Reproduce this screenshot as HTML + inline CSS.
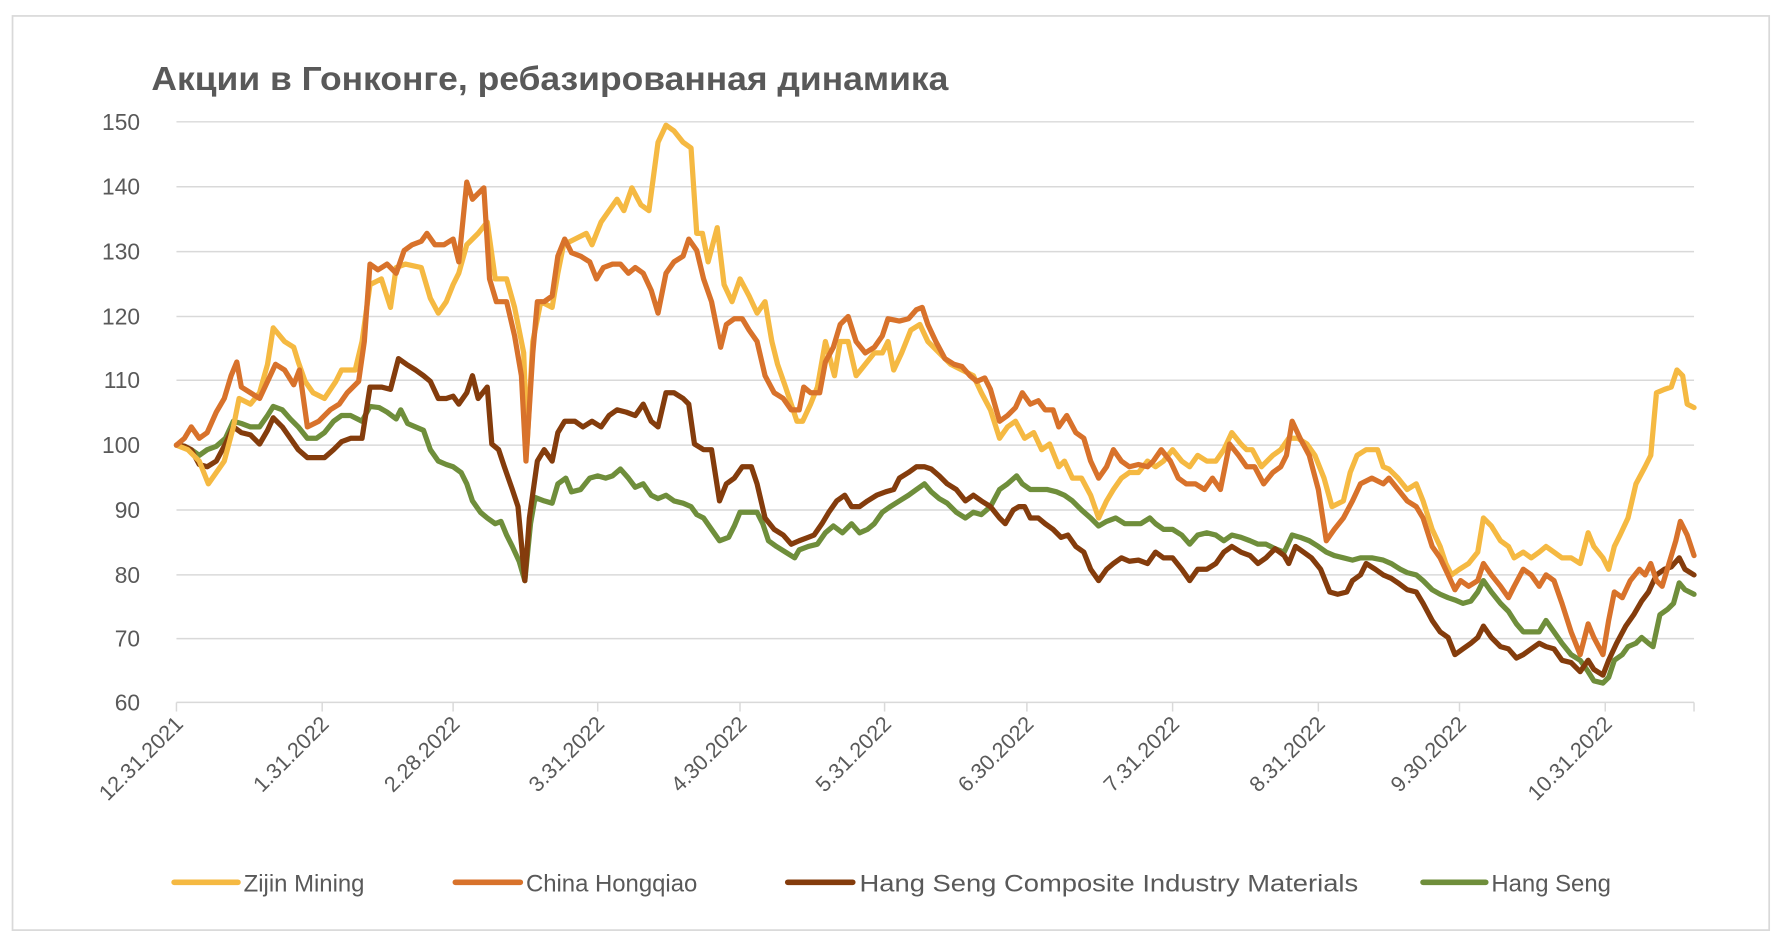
<!DOCTYPE html>
<html><head><meta charset="utf-8"><style>
html,body{margin:0;padding:0;background:#fff;}
svg{display:block;}
text{font-family:"Liberation Sans","DejaVu Sans",sans-serif;fill:#595959;}
</style></head><body>
<svg width="1776" height="944" viewBox="0 0 1560 829.2" preserveAspectRatio="none">
<rect x="11" y="14" width="1543" height="803" fill="#fff" stroke="#d9d9d9" stroke-width="1.5"/>
<text x="133" y="79" font-size="29" font-weight="bold" textLength="700" lengthAdjust="spacingAndGlyphs">Акции в Гонконге, ребазированная динамика</text>
<g stroke="#d9d9d9" stroke-width="1.3">
<line x1="155" x2="1488" y1="107" y2="107"/><line x1="155" x2="1488" y1="164" y2="164"/>
<line x1="155" x2="1488" y1="221" y2="221"/><line x1="155" x2="1488" y1="278" y2="278"/>
<line x1="155" x2="1488" y1="334" y2="334"/><line x1="155" x2="1488" y1="391" y2="391"/>
<line x1="155" x2="1488" y1="448" y2="448"/><line x1="155" x2="1488" y1="505" y2="505"/>
<line x1="155" x2="1488" y1="561" y2="561"/><line x1="155" x2="1488" y1="617" y2="617"/>
<line x1="155" x2="155" y1="617" y2="625"/><line x1="283" x2="283" y1="617" y2="625"/><line x1="398" x2="398" y1="617" y2="625"/><line x1="525" x2="525" y1="617" y2="625"/><line x1="650" x2="650" y1="617" y2="625"/><line x1="777" x2="777" y1="617" y2="625"/><line x1="902" x2="902" y1="617" y2="625"/><line x1="1030" x2="1030" y1="617" y2="625"/><line x1="1158" x2="1158" y1="617" y2="625"/><line x1="1282" x2="1282" y1="617" y2="625"/><line x1="1410" x2="1410" y1="617" y2="625"/><line x1="1488" x2="1488" y1="617" y2="625"/>
</g>
<g font-size="20" text-anchor="end">
<text x="123" y="114">150</text><text x="123" y="171">140</text><text x="123" y="228">130</text><text x="123" y="285">120</text><text x="123" y="341">110</text><text x="123" y="398">100</text><text x="123" y="455">90</text><text x="123" y="512">80</text><text x="123" y="568">70</text><text x="123" y="624">60</text>
</g>
<g font-size="19" text-anchor="end">
<text transform="translate(162,637) rotate(-45)">12.31.2021</text>
<text transform="translate(290,637) rotate(-45)">1.31.2022</text>
<text transform="translate(405,637) rotate(-45)">2.28.2022</text>
<text transform="translate(532,637) rotate(-45)">3.31.2022</text>
<text transform="translate(657,637) rotate(-45)">4.30.2022</text>
<text transform="translate(784,637) rotate(-45)">5.31.2022</text>
<text transform="translate(909,637) rotate(-45)">6.30.2022</text>
<text transform="translate(1037,637) rotate(-45)">7.31.2022</text>
<text transform="translate(1165,637) rotate(-45)">8.31.2022</text>
<text transform="translate(1289,637) rotate(-45)">9.30.2022</text>
<text transform="translate(1417,637) rotate(-45)">10.31.2022</text>
</g>
<g fill="none" stroke-width="4.6" stroke-linejoin="round" stroke-linecap="round">
<polyline stroke="#6f8e3b" points="155,391 162,392 168,395 175,400 182,395 190,392 198,385 205,370 212,372 220,375 228,375 235,365 240,357 248,360 255,368 262,375 270,385 278,385 285,380 293,370 300,365 308,365 318,370 325,357 333,358 340,362 348,368 352,360 358,372 365,375 372,378 378,395 385,405 392,408 398,410 405,415 410,425 415,440 422,450 428,455 435,460 440,458 445,470 450,480 456,493 461,510 466,460 470,437 478,440 485,442 490,425 497,420 502,432 510,430 518,420 525,418 532,420 538,418 545,412 552,420 558,428 565,425 572,435 578,438 585,435 592,440 600,442 607,445 612,452 618,455 625,465 632,475 640,472 645,462 650,450 658,450 665,450 670,460 675,475 682,480 690,485 698,490 702,483 710,480 718,478 725,468 732,462 740,468 748,460 755,468 762,465 768,460 775,450 782,445 790,440 798,435 805,430 812,425 818,432 825,438 832,442 840,450 848,455 855,450 862,452 870,445 878,430 885,425 893,418 898,425 905,430 912,430 920,430 928,432 935,435 942,440 950,448 958,455 965,462 972,458 980,455 988,460 995,460 1002,460 1010,455 1015,460 1022,465 1030,465 1038,470 1045,478 1052,470 1060,468 1068,470 1075,475 1082,470 1090,472 1098,475 1105,478 1112,478 1120,482 1128,485 1135,470 1142,472 1150,475 1158,480 1165,485 1172,488 1180,490 1188,492 1195,490 1205,490 1215,492 1222,495 1230,500 1236,503 1244,505 1250,510 1258,518 1265,522 1272,525 1278,527 1285,530 1292,528 1298,520 1303,510 1310,520 1318,530 1325,537 1332,548 1338,555 1345,555 1352,555 1358,545 1365,555 1372,565 1380,575 1388,580 1395,590 1400,598 1408,600 1413,595 1418,580 1425,575 1430,568 1437,565 1442,560 1448,565 1452,568 1458,540 1465,535 1470,530 1475,512 1480,518 1488,522"/>
<polyline stroke="#843c0c" points="155,391 162,392 168,395 175,408 182,410 190,405 198,390 205,375 212,380 220,382 228,390 235,378 240,367 248,375 255,385 262,395 270,402 278,402 285,402 293,395 300,388 308,385 318,385 325,340 335,340 343,342 350,315 357,320 365,325 372,330 378,335 385,350 392,350 398,348 403,355 410,345 415,330 420,350 428,340 432,390 438,395 443,410 450,430 455,445 461,510 465,455 472,405 478,395 485,405 490,380 496,370 505,370 512,375 520,370 528,375 535,365 542,360 550,362 558,365 565,355 572,370 578,375 585,345 592,345 600,350 605,355 610,390 618,395 625,395 632,440 638,425 645,420 652,410 660,410 665,425 672,455 680,465 688,470 695,478 702,475 710,472 715,470 722,460 728,450 735,440 742,435 748,445 755,445 762,440 770,435 778,432 785,430 790,420 798,415 805,410 812,410 818,412 825,418 832,425 840,430 848,440 855,435 862,440 870,445 878,455 883,460 890,448 895,445 900,445 905,455 912,455 918,460 925,465 932,472 938,470 945,480 952,485 958,500 965,510 972,500 978,495 985,490 992,493 1000,492 1008,495 1015,485 1022,490 1030,490 1038,500 1045,510 1052,500 1060,500 1068,495 1075,485 1082,480 1090,485 1098,488 1105,495 1112,490 1120,482 1128,488 1132,495 1138,480 1145,485 1152,490 1160,500 1168,520 1175,522 1183,520 1188,510 1195,505 1200,495 1208,500 1215,505 1222,508 1228,512 1236,518 1244,520 1250,530 1258,545 1265,555 1272,560 1278,575 1285,570 1292,565 1298,560 1303,550 1310,560 1318,568 1325,570 1332,578 1338,575 1345,570 1352,565 1358,568 1365,570 1372,580 1380,582 1388,590 1395,580 1400,588 1408,593 1413,580 1420,565 1428,550 1435,540 1442,528 1448,520 1455,505 1462,500 1468,498 1475,490 1480,500 1488,505"/>
<polyline stroke="#f5b942" points="155,391 165,395 175,405 183,425 190,415 197,405 205,375 210,350 220,355 228,345 235,320 240,288 250,300 258,305 262,318 268,335 275,345 285,350 295,335 300,325 312,325 318,300 325,250 335,245 343,270 348,235 356,232 370,235 378,262 385,275 392,265 398,250 403,240 410,215 420,205 428,195 435,245 445,245 452,270 460,310 463,390 468,300 475,265 485,270 490,240 495,215 505,210 515,205 520,215 528,195 535,185 542,175 548,185 555,165 563,180 570,185 578,125 585,110 592,115 600,125 607,130 612,205 617,205 622,230 630,200 636,250 643,265 650,245 658,260 665,275 672,265 678,300 683,320 690,340 700,370 705,370 712,355 718,340 725,300 733,330 738,300 745,300 752,330 760,320 768,310 775,310 780,300 785,325 792,310 800,290 808,285 815,300 825,310 835,320 845,325 855,330 862,345 870,360 878,385 885,375 892,370 900,385 908,380 915,395 922,390 930,410 935,405 942,420 950,420 958,435 965,455 972,440 978,430 985,420 992,415 1000,415 1008,405 1015,410 1022,405 1030,395 1038,405 1045,410 1052,400 1060,405 1068,405 1075,395 1082,380 1090,390 1095,395 1100,395 1108,410 1118,400 1125,395 1132,385 1140,385 1148,390 1155,400 1163,420 1170,445 1180,440 1186,415 1192,400 1200,395 1210,395 1215,410 1220,412 1228,420 1236,430 1244,425 1250,440 1258,465 1265,480 1270,495 1275,505 1282,500 1290,495 1298,485 1303,455 1310,462 1318,475 1325,480 1330,490 1338,485 1345,490 1352,485 1358,480 1365,485 1372,490 1380,490 1388,495 1395,468 1400,480 1408,490 1413,500 1418,480 1423,470 1430,455 1437,425 1445,410 1450,400 1455,345 1462,342 1468,340 1473,325 1478,330 1482,355 1488,358"/>
<polyline stroke="#d8722b" points="155,391 162,385 168,375 175,385 182,380 190,362 197,350 203,330 208,318 212,340 220,345 228,350 235,335 242,320 250,325 258,338 263,325 270,375 280,370 290,360 298,355 305,345 315,335 320,300 325,232 332,237 340,232 348,240 355,220 362,215 370,212 375,205 382,215 390,215 398,210 403,230 410,160 415,175 420,170 425,165 430,245 436,265 445,265 452,295 458,330 462,405 468,310 472,265 478,265 485,260 490,225 496,210 502,222 510,225 518,230 524,245 530,235 538,232 545,232 552,240 558,235 565,240 572,255 578,275 585,240 592,230 600,225 605,210 612,220 618,245 625,265 633,305 638,285 645,280 652,280 658,290 665,300 672,330 680,345 688,350 695,360 702,360 706,340 712,345 720,345 725,318 732,305 738,285 745,278 752,300 760,310 768,305 775,295 780,280 790,282 798,280 805,272 810,270 815,285 822,300 830,315 838,320 845,322 852,330 858,335 865,332 870,342 878,370 885,365 892,358 898,345 905,355 912,352 918,360 925,360 930,375 937,365 945,380 952,385 958,405 965,420 972,410 978,395 985,405 992,410 1000,408 1008,410 1013,405 1020,395 1028,405 1035,420 1042,425 1050,425 1058,430 1065,420 1072,430 1080,390 1088,400 1095,410 1102,410 1110,425 1118,415 1125,410 1130,400 1135,370 1142,385 1150,400 1158,430 1165,475 1172,465 1180,455 1188,440 1195,425 1205,420 1215,425 1220,420 1228,430 1236,440 1244,445 1250,455 1258,480 1265,490 1272,505 1278,518 1283,510 1290,515 1298,510 1303,495 1310,505 1318,515 1325,525 1330,515 1338,500 1345,505 1352,515 1358,505 1365,510 1372,530 1380,555 1388,575 1395,548 1400,560 1408,575 1413,545 1418,520 1425,525 1432,510 1440,500 1445,505 1450,495 1455,510 1460,515 1466,495 1472,475 1476,458 1482,470 1488,488"/>
</g>
<g stroke-width="5" stroke-linecap="round">
<line x1="153" x2="209" y1="775" y2="775" stroke="#f5b942"/>
<line x1="400" x2="457" y1="775" y2="775" stroke="#d8722b"/>
<line x1="692" x2="749" y1="775" y2="775" stroke="#843c0c"/>
<line x1="1250" x2="1305" y1="775" y2="775" stroke="#6f8e3b"/>
</g>
<g font-size="21">
<text x="214" y="783">Zijin Mining</text>
<text x="462" y="783">China Hongqiao</text>
<text x="755" y="783" textLength="438" lengthAdjust="spacingAndGlyphs">Hang Seng Composite Industry Materials</text>
<text x="1310" y="783">Hang Seng</text>
</g>
</svg>
</body></html>
